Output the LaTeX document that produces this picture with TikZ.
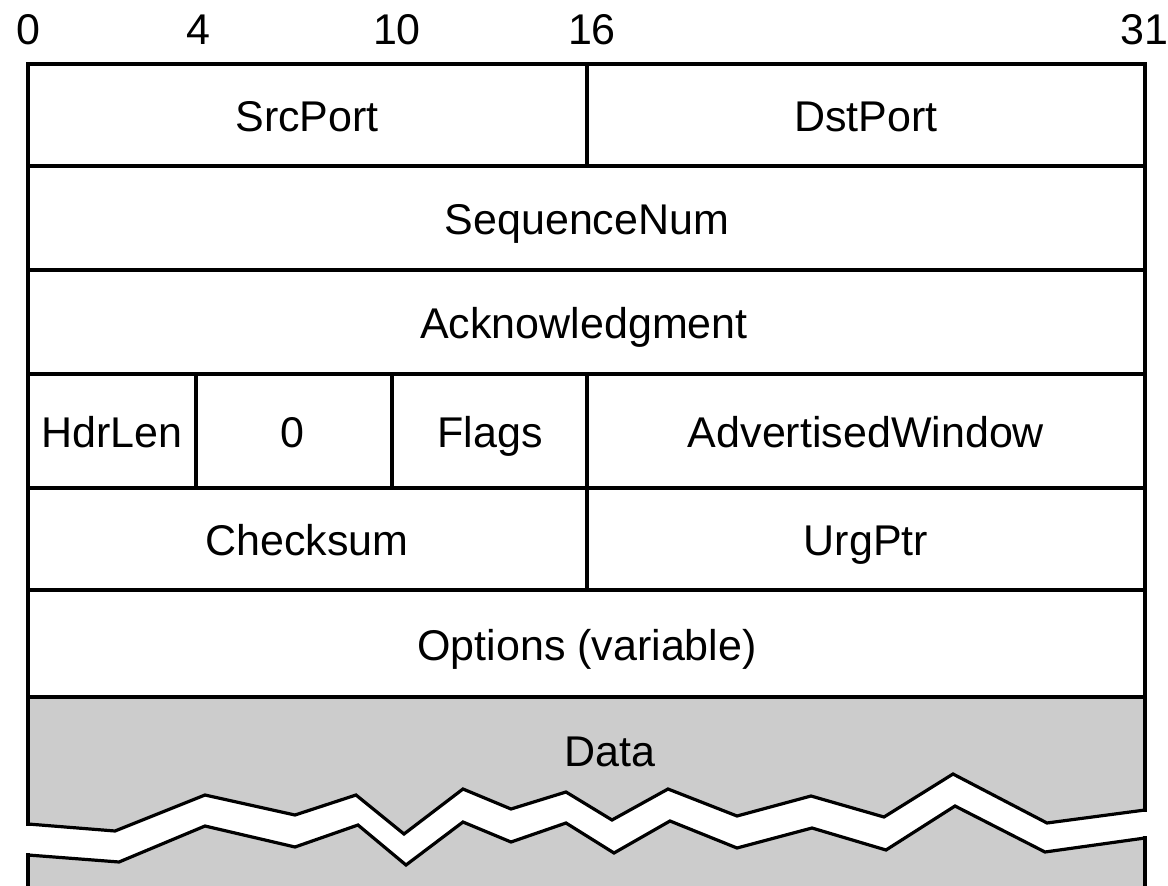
\documentclass[tikz,border=0pt]{standalone}
\usepackage{fontspec}
\setmainfont{Liberation Sans}
\begin{document}
\begin{tikzpicture}[x=1pt,y=-1pt,
  rule/.style={line width=4pt,line cap=rect},
  brk/.style={line width=3.2pt,line join=miter},
  lbl/.style={anchor=base,inner sep=0pt,font=\fontsize{43}{50}\selectfont},
  datafill/.style={fill=black!20}]
\useasboundingbox (0,0) rectangle (1168,886);
\clip (0,0) rectangle (1168,886);

% bit positions along the top
\node[lbl] (b0)  at (28,45)   {0};
\node[lbl] (b4)  at (198,45)  {4};
\node[lbl] (b10) at (397,45)  {10};
\node[lbl] (b16) at (592,45)  {16};
\node[lbl] (b31) at (1144,45) {31};

% grey data area, split by a torn edge
\fill[datafill] (28,697) -- (1145,697) -- (1145,810) -- (1047,823) -- (953,774)
  -- (884,817) -- (811,796) -- (737,816) -- (668,789) -- (612,820) -- (566,792)
  -- (511,809) -- (463,789) -- (404,834) -- (356,795) -- (295,815) -- (205,795)
  -- (115,831) -- (28,824) -- cycle;
\fill[datafill] (28,855) -- (119,862) -- (205,826) -- (295,847) -- (358,825)
  -- (406,865) -- (463,822) -- (511,842) -- (566,823) -- (614,853) -- (670,821)
  -- (737,848) -- (812,828) -- (886,850) -- (955,806) -- (1045,852) -- (1145,838)
  -- (1145,900) -- (28,900) -- cycle;

% header rows
\draw[rule] (28,824) -- (28,64) -- (1145,64) -- (1145,810);
\draw[rule] (28,166) -- (1145,166);
\draw[rule] (28,270) -- (1145,270);
\draw[rule] (28,374) -- (1145,374);
\draw[rule] (28,488) -- (1145,488);
\draw[rule] (28,590) -- (1145,590);
\draw[rule] (28,697) -- (1145,697);
\draw[rule] (28,855) -- (28,900);
\draw[rule] (1145,838) -- (1145,900);

% field dividers
\draw[rule] (587,64) -- (587,166);
\draw[rule] (196,374) -- (196,488);
\draw[rule] (392,374) -- (392,488);
\draw[rule] (587,374) -- (587,590);

% torn edges
\draw[brk] (28,824) -- (115,831) -- (205,795) -- (295,815) -- (356,795)
  -- (404,834) -- (463,789) -- (511,809) -- (566,792) -- (612,820) -- (668,789)
  -- (737,816) -- (811,796) -- (884,817) -- (953,774) -- (1047,823) -- (1145,810);
\draw[brk] (28,855) -- (119,862) -- (205,826) -- (295,847) -- (358,825)
  -- (406,865) -- (463,822) -- (511,842) -- (566,823) -- (614,853) -- (670,821)
  -- (737,848) -- (812,828) -- (886,850) -- (955,806) -- (1045,852) -- (1145,838);

% field names
\node[lbl] (src)   at (307,131) {SrcPort};
\node[lbl] (dst)   at (866,131) {DstPort};
\node[lbl] (seq)   at (587,234) {SequenceNum};
\node[lbl] (ack)   at (584,338) {Acknowledgment};
\node[lbl] (hdr)   at (112,447) {HdrLen};
\node[lbl] (zero)  at (292,447) {0};
\node[lbl] (flags) at (490,447) {Flags};
\node[lbl] (adv)   at (866,447) {AdvertisedWindow};
\node[lbl] (chk)   at (307,555) {Checksum};
\node[lbl] (urg)   at (866,555) {UrgPtr};
\node[lbl] (opt)   at (587,660) {Options (variable)};
\node[lbl] (data)  at (610,766) {Data};
\end{tikzpicture}
\end{document}
